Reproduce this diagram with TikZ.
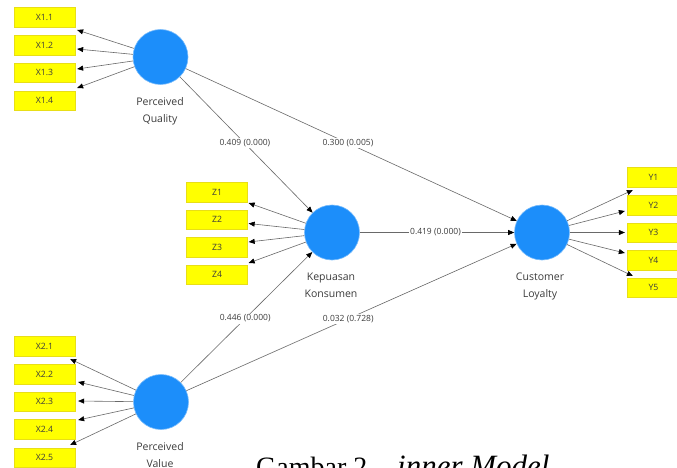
\documentclass[tikz,border=0pt]{standalone}
\usepackage{fontspec}
\setmainfont{Liberation Serif}
\newfontfamily\uifont{Open Sans}
\usetikzlibrary{arrows.meta,calc}

\definecolor{lvblue}{RGB}{28,142,250}
\definecolor{indyellow}{RGB}{255,255,0}
\definecolor{pathgray}{RGB}{105,105,105}
\definecolor{labelgray}{RGB}{60,60,60}

\tikzset{
  latent/.style={circle, fill=lvblue, draw=lvblue!60!white, line width=0.6pt,
    minimum size=55pt, inner sep=0pt},
  indicator/.style={rectangle, fill=indyellow, draw=yellow!90!black, line width=0.3pt,
    minimum width=61pt, minimum height=19.5pt, inner sep=0pt,
    font=\uifont\fontsize{8.7}{10}\selectfont, text=labelgray},
  lvname/.style={align=center, font=\uifont\fontsize{10.5}{17}\selectfont, text=labelgray},
  conn/.style={draw=pathgray, line width=0.6pt,
    -{Triangle[length=6pt,width=5pt,color=black]}},
  coef/.style={fill=white, inner sep=1.2pt, pos=0.49,
    font=\uifont\fontsize{8.5}{10}\selectfont, text=labelgray},
}

\begin{document}
\begin{tikzpicture}[x=1pt,y=-1pt]
  \useasboundingbox (0,0) rectangle (677,468);
  \clip (0,0) rectangle (677,468);
  \fill[white] (0,0) rectangle (677,468);

  % latent variables
  \node[latent] (pq) at (160.5,57) {};
  \node[latent] (kk) at (332,232.5) {};
  \node[latent] (cl) at (542,232.5) {};
  \node[latent] (pv) at (161,402) {};

  \node[lvname] (pqname) at (160,111.5) {Perceived\\Quality};
  \node[lvname] (kkname) at (331,285) {Kepuasan\\Konsumen};
  \node[lvname] (clname) at (540,286) {Customer\\Loyalty};
  \node[lvname] (pvname) at (160,455) {Perceived\\Value};

  % indicators
  \node[indicator] (x11) at (44.5,17) {X1.1};
  \node[indicator] (x12) at (44.5,45) {X1.2};
  \node[indicator] (x13) at (44.5,72.5) {X1.3};
  \node[indicator] (x14) at (44.5,100.5) {X1.4};

  \node[indicator] (z1) at (217,192) {Z1};
  \node[indicator] (z2) at (217,219.5) {Z2};
  \node[indicator] (z3) at (217,247) {Z3};
  \node[indicator] (z4) at (217,274.5) {Z4};

  \node[indicator] (x21) at (44.5,346) {X2.1};
  \node[indicator] (x22) at (44.5,374) {X2.2};
  \node[indicator] (x23) at (44.5,401.5) {X2.3};
  \node[indicator] (x24) at (44.5,429) {X2.4};
  \node[indicator] (x25) at (44.5,457.5) {X2.5};

  \node[indicator, minimum width=53pt] (y1) at (653.5,177) {Y1};
  \node[indicator, minimum width=53pt] (y2) at (653.5,205) {Y2};
  \node[indicator, minimum width=53pt] (y3) at (653.5,232.5) {Y3};
  \node[indicator, minimum width=53pt] (y4) at (653.5,260) {Y4};
  \node[indicator, minimum width=53pt] (y5) at (653.5,287.5) {Y5};

  % outer model (reflective) arrows
  \draw[conn] (pq) -- ($(x11.east)+(2,13)$);
  \draw[conn] (pq) -- ($(x12.east)+(2,4)$);
  \draw[conn] (pq) -- ($(x13.east)+(2,-3.5)$);
  \draw[conn] (pq) -- ($(x14.east)+(2,-12.5)$);

  \draw[conn] (kk) -- ($(z1.east)+(1,11)$);
  \draw[conn] (kk) -- ($(z2.east)+(1,4)$);
  \draw[conn] (kk) -- ($(z3.east)+(1,-5)$);
  \draw[conn] (kk) -- ($(z4.east)+(1,-11.5)$);

  \draw[conn] (pv) -- ($(x21.east)+(-5,13)$);
  \draw[conn] (pv) -- ($(x22.east)+(3,8)$);
  \draw[conn] (pv) -- ($(x23.east)+(3,-0.5)$);
  \draw[conn] (pv) -- ($(x24.east)+(3,-9)$);
  \draw[conn] (pv) -- ($(x25.east)+(-5,-12.5)$);

  \draw[conn] (cl) -- ($(y1.west)+(6,13)$);
  \draw[conn] (cl) -- ($(y2.west)+(-2,6)$);
  \draw[conn] (cl) -- ($(y3.west)+(-2,0)$);
  \draw[conn] (cl) -- ($(y4.west)+(-2,-7)$);
  \draw[conn] (cl) -- ($(y5.west)+(6,-11.5)$);

  % inner model paths with coefficients (p-values)
  \draw[conn] (pq) -- node[coef] (c1) {0.409 (0.000)} (kk);
  \draw[conn] (pq) -- node[coef] (c2) {0.300 (0.005)} (cl);
  \draw[conn] (kk) -- node[coef] (c3) {0.419 (0.000)} (cl);
  \draw[conn] (pv) -- node[coef] (c4) {0.446 (0.000)} (kk);
  \draw[conn] (pv) -- node[coef] (c5) {0.032 (0.728)} (cl);

  % caption
  \node[anchor=base west, inner sep=0pt, font=\fontsize{28}{30}\selectfont]
    (capa) at (256,476) {Gambar 2.};
  \node[anchor=base west, inner sep=0pt, font=\fontsize{31}{33}\selectfont\itshape]
    (capb) at (397,476) {inner Model};
\end{tikzpicture}
\end{document}
